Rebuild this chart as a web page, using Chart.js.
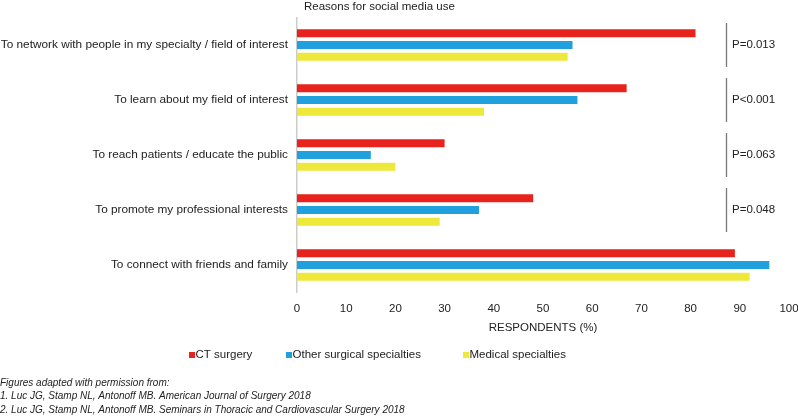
<!DOCTYPE html>
<html><head><meta charset="utf-8">
<script src="https://cdn.jsdelivr.net/npm/chart.js@4/dist/chart.umd.min.js"></script>
<style>html,body{margin:0;padding:0;background:#fff;} #wrap{position:relative;width:798px;height:416px;}</style>
</head><body><div id="wrap"><canvas id="c" width="798" height="416"></canvas></div>
<script>
const categories = [
  'To network with people in my specialty / field of interest',
  'To learn about my field of interest',
  'To reach patients / educate the public',
  'To promote my professional interests',
  'To connect with friends and family'
];
const seriesNames = ['CT surgery', 'Other surgical specialties', 'Medical specialties'];
const ctSurgery = [81, 67, 30, 48, 89];
const otherSurgical = [56, 57, 15, 37, 96];
const medicalSpecialties = [55, 38, 20, 29, 92];
const pValues = ['P=0.013', 'P<0.001', 'P=0.063', 'P=0.048', null];
const xTickValues = [0, 10, 20, 30, 40, 50, 60, 70, 80, 90, 100];
const chartTitle = 'Reasons for social media use';
const axisTitle = 'RESPONDENTS (%)';
const footnotes = [
  'Figures adapted with permission from:',
  '1. Luc JG, Stamp NL, Antonoff MB. American Journal of Surgery 2018',
  '2. Luc JG, Stamp NL, Antonoff MB. Seminars in Thoracic and Cardiovascular Surgery 2018'
];

const FONT = "'Helvetica Neue', Helvetica, 'Liberation Sans', Arial, sans-serif";
const colors = ['#e8221c', '#20a0dc', '#eee83a'];
const BRACKET_X = 87.2;        // bracket position in x-scale units
const LEGEND_X = [189, 286, 463];

const overlay = {
  id: 'overlay',
  afterDraw(chart) {
    const ctx = chart.ctx;
    const xs = chart.scales.x, ys = chart.scales.y;
    ctx.save();
    // chart title
    ctx.fillStyle = '#222';
    ctx.font = '11.5px ' + FONT;
    ctx.textBaseline = 'middle';
    ctx.textAlign = 'left';
    ctx.fillText(chartTitle, chart.chartArea.left + 7, 7);
    // brackets and p-values
    const catH = (ys.bottom - ys.top) / categories.length;
    const bx = Math.round(xs.getPixelForValue(BRACKET_X)) + 0.5;
    pValues.forEach((p, i) => {
      if (!p) return;
      const cy = ys.getPixelForValue(i);
      ctx.strokeStyle = '#777';
      ctx.lineWidth = 1.3;
      ctx.beginPath();
      ctx.moveTo(bx, cy - catH * 0.4);
      ctx.lineTo(bx, cy + catH * 0.4);
      ctx.stroke();
      ctx.fillStyle = '#222';
      ctx.font = '11.5px ' + FONT;
      ctx.fillText(p, bx + 5.5, cy);
    });
    // legend
    chart.data.datasets.forEach((ds, i) => {
      const x = LEGEND_X[i], y = 355;
      ctx.fillStyle = ds.backgroundColor;
      ctx.fillRect(x, y - 3, 6, 6);
      ctx.fillStyle = '#222';
      ctx.font = '11.5px ' + FONT;
      ctx.fillText(ds.label, x + 6.5, y);
    });
    // footnotes
    ctx.font = 'italic 10px ' + FONT;
    ctx.fillStyle = '#222';
    [383, 396.5, 410].forEach((y, i) => ctx.fillText(footnotes[i], 0, y));
    ctx.restore();
  }
};

new Chart(document.getElementById('c'), {
  type: 'bar',
  data: {
    labels: categories,
    datasets: [
      { label: seriesNames[0], data: ctSurgery, backgroundColor: colors[0] },
      { label: seriesNames[1], data: otherSurgical, backgroundColor: colors[1] },
      { label: seriesNames[2], data: medicalSpecialties, backgroundColor: colors[2] }
    ]
  },
  options: {
    indexAxis: 'y',
    responsive: false,
    devicePixelRatio: 1,
    animation: false,
    categoryPercentage: 0.645,
    barPercentage: 0.68,
    layout: { padding: { top: 17.5, right: 9, bottom: 81.5, left: 0 } },
    plugins: { legend: { display: false }, title: { display: false }, tooltip: { enabled: false } },
    scales: {
      x: {
        min: 0, max: 100,
        afterBuildTicks: s => { s.ticks = xTickValues.map(v => ({ value: v })); },
        afterFit: s => { s.height = 42; s.paddingLeft = 0; s.paddingRight = 0; },
        grid: { display: false, drawTicks: false },
        border: { display: false },
        ticks: { color: '#222', padding: 9, font: { family: FONT, size: 11.5 }, maxRotation: 0 },
        title: { display: true, text: axisTitle, color: '#222', padding: 0, font: { family: FONT, size: 11.5 } }
      },
      y: {
        afterFit: s => { s.width = 297; s.paddingTop = 0; s.paddingBottom = 0; },
        grid: { display: false, drawTicks: false },
        border: { display: true, color: '#cccccc', width: 1.5 },
        ticks: { color: '#222', padding: 9, font: { family: FONT, size: 11.8 } }
      }
    }
  },
  plugins: [overlay]
});
</script></body></html>
